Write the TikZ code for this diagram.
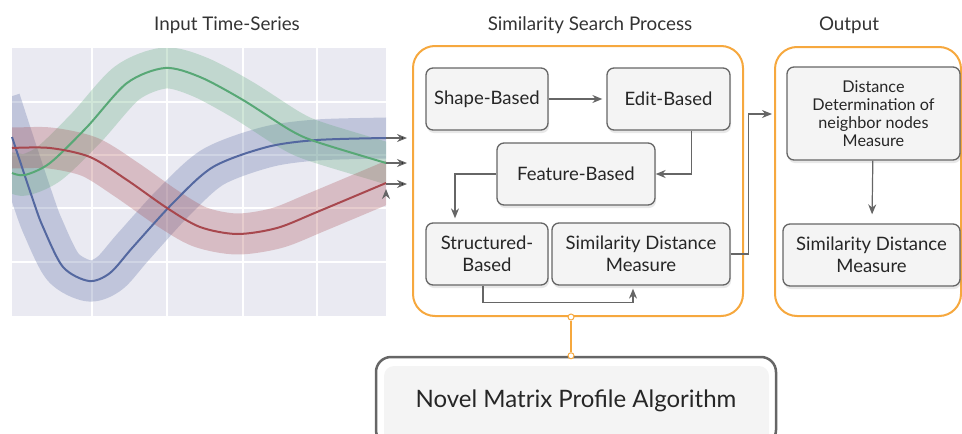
\documentclass[tikz,border=0pt]{standalone}
\usepackage{fontspec}
\setmainfont{Lato}
\usetikzlibrary{arrows.meta,shadows,calc}
\newcommand\bh{62}

\definecolor{orng}{RGB}{246,168,62}
\definecolor{edge}{RGB}{102,102,102}
\definecolor{boxfill}{RGB}{244,244,244}
\definecolor{plotbg}{RGB}{234,234,242}
\definecolor{sblue}{RGB}{84,104,160}
\definecolor{sgreen}{RGB}{88,168,118}
\definecolor{sred}{RGB}{168,72,78}

\begin{document}
\begin{tikzpicture}[x=1pt,y=-1pt,>={Stealth[length=10pt,width=8pt]}]

  \tikzstyle{title}=[font=\fontsize{18.8}{22}\selectfont,text=black!80]
  \tikzstyle{group}=[draw=orng,line width=2pt,rounded corners=22pt]
  \tikzstyle{block}=[draw=edge,line width=1.3pt,rounded corners=7pt,fill=boxfill,
                     align=center,minimum height=\bh pt,text=black!85,
                     font=\fontsize{18.5}{21.5}\selectfont,
                     drop shadow={shadow xshift=1pt,shadow yshift=-3pt,opacity=.18}]
  \tikzstyle{flow}=[->,draw=edge,line width=1.2pt]
  \tikzstyle{link}=[draw=orng,line width=1.5pt]
  \tikzstyle{dot}=[circle,draw=orng,fill=white,line width=1pt,inner sep=0pt,minimum size=6pt]
  \tikzstyle{band}=[line width=41pt,line join=round,draw opacity=.28,smooth]
  \tikzstyle{curve}=[line width=2pt,line join=round,smooth]

  \useasboundingbox (0,0) rectangle (962,434);
  \clip (0,0) rectangle (962,434);

  % headings
  \node[title] (tIn)  at (227,25) {Input Time-Series};
  \node[title] (tSim) at (590,25) {Similarity Search Process};
  \node[title] (tOut) at (849,25) {Output};

  % time series plot
  \fill[plotbg] (12,48) rectangle (386,316);
  \foreach \x in {92,167,243,317}
    \draw[white,line width=1.5pt] (\x,48) -- (\x,316);
  \foreach \y in {102,155,208,262}
    \draw[white,line width=1.5pt] (12,\y) -- (386,\y);

  \begin{scope}
    \clip (12,48) rectangle (386,316);
    \draw[sblue,band] plot coordinates {(0,100) (12,137) (33,200) (43,227) (63,267) (89,281) (110,273)
        (133,247) (173,203) (213,167) (267,147) (317,140) (386,138) (440,137)};
    \draw[sgreen,band] plot coordinates {(-40,168) (12,173) (25,175) (50,163) (87,127) (127,83) (165,68)
        (200,77) (243,100) (290,130) (317,142) (386,163) (440,180)};
    \draw[sred,band] plot coordinates {(-40,148) (12,148) (50,148) (90,157) (127,180) (167,208) (200,227)
        (237,234) (277,228) (317,212) (386,183) (440,160)};
  \end{scope}

  \draw[sblue,curve] plot coordinates {(12,137) (33,200) (43,227) (63,267) (89,281) (110,273)
      (133,247) (173,203) (213,167) (267,147) (317,140) (386,138)};
  \draw[sgreen,curve] plot coordinates {(12,173) (25,175) (50,163) (87,127) (127,83) (165,68)
      (200,77) (243,100) (290,130) (317,142) (386,163)};
  \draw[sred,curve] plot coordinates {(12,148) (50,148) (90,157) (127,180) (167,208) (200,227)
      (237,234) (277,228) (317,212) (386,183)};

  \coordinate (bEnd) at (386,138);
  \coordinate (gEnd) at (386,163);
  \coordinate (rEnd) at (386,184);

  % process and output frames
  \node[group,minimum width=330pt,minimum height=270pt] (search) at (578,181) {};
  \node[group,minimum width=186pt,minimum height=269pt] (output) at (868,181.5) {};

  \node[block,minimum width=122pt] (shape)      at (487,99)    {Shape-Based};
  \node[block,minimum width=123pt] (edit)       at (668.5,99)  {Edit-Based};
  \node[block,minimum width=158pt] (feature)    at (576,174)   {Feature-Based};
  \node[block,minimum width=122pt] (structured) at (487,254)   {Structured-\\Based};
  \node[block,minimum width=178pt] (simdist)    at (641,254)   {Similarity Distance\\Measure};

  \node[block,minimum width=173pt,minimum height=93pt,font=\fontsize{16.2}{17.8}\selectfont]
       (distdet) at (873.5,113.5) {Distance\\Determination of\\neighbor nodes\\Measure};
  \node[block,minimum width=177pt] (outsim) at (871.5,255) {Similarity Distance\\Measure};

  % bottom algorithm box
  \fill[boxfill,rounded corners=10pt] (384,366) rectangle (769,450);
  \node[draw=edge,line width=2.5pt,rounded corners=15pt,minimum width=400pt,minimum height=88pt,
        font=\fontsize{24}{28}\selectfont,text=black!85] (novel) at (576,401)
       {Novel Matrix Profile Algorithm};

  \node[dot] (dTop) at ([xshift=-7pt]search.south) {};
  \node[dot] (dBot) at (dTop |- novel.north) {};
  \draw[link] (dTop) -- (dBot);

  % connectors
  \path[flow,shorten >=5pt]
  (bEnd) edge (bEnd -| search.west)
  (gEnd) edge (gEnd -| search.west)
  (rEnd) edge (rEnd -| search.west);

  \draw[flow,shorten >=4pt] (shape) -- (edit);
  \draw[flow] ([xshift=23pt]edit.south) |- (feature.east);
  \draw[flow,shorten >=4pt] (feature.west) -| ([xshift=-32pt]structured.north);
  \draw[flow,shorten >=3pt] ([xshift=-4pt]structured.south) -- ++(0,17) -| ([xshift=-8pt]simdist.south);
  \draw[flow,shorten >=2pt] (simdist.east) -- ++(18,0) |- ($(output.north west)+(0,68)$);
  \draw[flow,shorten >=9pt] (distdet) -- (outsim);

\end{tikzpicture}
\end{document}
